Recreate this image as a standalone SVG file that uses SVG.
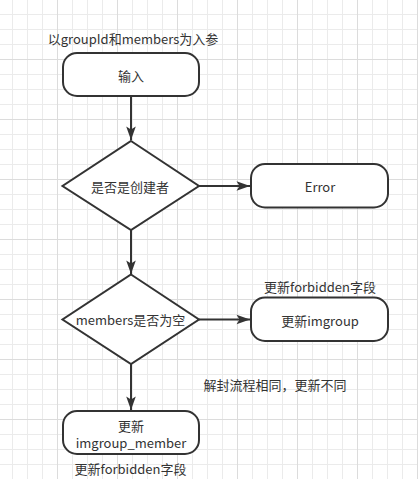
<svg xmlns="http://www.w3.org/2000/svg" width="418" height="479" viewBox="0 0 418 479">
  <defs>
    <pattern id="minor" width="15" height="15" patternUnits="userSpaceOnUse" patternTransform="translate(12 14)">
      <path d="M0.5,0 V15 M0,0.5 H15" stroke="#ebebeb" stroke-width="1" fill="none"/>
    </pattern>
    <pattern id="major" width="60" height="60" patternUnits="userSpaceOnUse" patternTransform="translate(57 59)">
      <path d="M0.5,0 V60 M0,0.5 H60" stroke="#dcdcdc" stroke-width="1" fill="none"/>
    </pattern>
    <marker id="arrow" markerUnits="userSpaceOnUse" markerWidth="16" markerHeight="12" viewBox="-14 -6 16 12" refX="0" refY="0" orient="auto">
      <path d="M0,0 L-13.5,-4.8 L-10.5,0 L-13.5,4.8 Z" fill="#333333"/>
    </marker>
    <style>
      .shape { fill: #ffffff; stroke: #333333; stroke-width: 2; }
      .edge { fill: none; stroke: #333333; stroke-width: 2; }
      text { font-family: "Noto Sans CJK SC", "Noto Sans", sans-serif; font-size: 13px; fill: #333333; text-anchor: middle; dominant-baseline: central; }
    </style>
  </defs>
  <rect width="418" height="479" fill="#ffffff"/>
  <rect width="418" height="479" fill="url(#minor)"/>
  <rect width="418" height="479" fill="url(#major)"/>

  <g id="connectors">
    <path class="edge" d="M131,96 V140" marker-end="url(#arrow)"/>
    <path class="edge" d="M199,186 H250" marker-end="url(#arrow)"/>
    <path class="edge" d="M131,230 V274" marker-end="url(#arrow)"/>
    <path class="edge" d="M199,319.5 H250" marker-end="url(#arrow)"/>
    <path class="edge" d="M131,364 V410" marker-end="url(#arrow)"/>
  </g>

  <g id="label-input-params">
    <text x="133" y="38.5">以groupId和members为入参</text>
  </g>

  <g id="node-input">
    <rect class="shape" x="63" y="53" width="136" height="43" rx="14" ry="14"/>
    <text x="131" y="75">输入</text>
  </g>

  <g id="node-is-creator">
    <path class="shape" d="M131,141 L199,186 L131,230 L62.5,186 Z"/>
    <text x="130" y="186">是否是创建者</text>
  </g>

  <g id="node-error">
    <rect class="shape" x="251" y="164" width="137" height="43.5" rx="14" ry="14"/>
    <text x="320" y="186">Error</text>
  </g>

  <g id="node-members-empty">
    <path class="shape" d="M131,274.5 L199,319.5 L131,364 L62.5,319.5 Z"/>
    <text x="130.5" y="319.5">members是否为空</text>
  </g>

  <g id="node-update-imgroup">
    <text x="320" y="286">更新forbidden字段</text>
    <rect class="shape" x="251" y="297.5" width="137" height="43.5" rx="14" ry="14"/>
    <text x="320" y="320.5">更新imgroup</text>
  </g>

  <g id="label-note">
    <text x="275" y="384">解封流程相同，更新不同</text>
  </g>

  <g id="node-update-member">
    <rect class="shape" x="63" y="411" width="136" height="43" rx="14" ry="14"/>
    <text x="131" y="425"><tspan x="131" y="425">更新</tspan><tspan x="131" y="442">imgroup_member</tspan></text>
    <text x="130.5" y="468">更新forbidden字段</text>
  </g>
</svg>
